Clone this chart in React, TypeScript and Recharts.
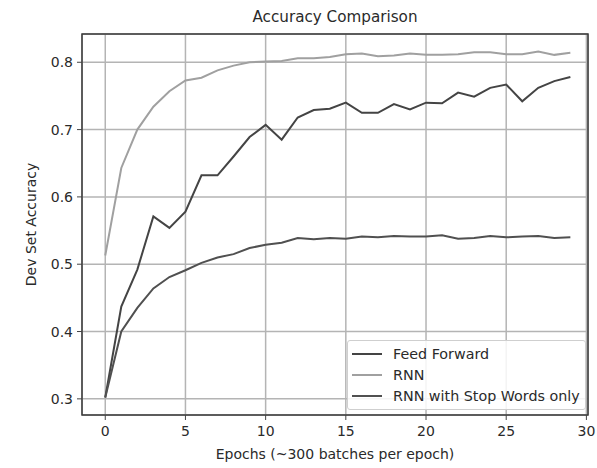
import React from "react";
import {
  LineChart,
  Line,
  XAxis,
  YAxis,
  CartesianGrid,
  ReferenceArea,
} from "recharts";

const epochs = [
  0, 1, 2, 3, 4, 5, 6, 7, 8, 9, 10, 11, 12, 13, 14, 15, 16, 17, 18, 19, 20,
  21, 22, 23, 24, 25, 26, 27, 28, 29,
];

const feedForward = [
  0.302, 0.437, 0.492, 0.571, 0.554, 0.578, 0.632, 0.632, 0.66, 0.689, 0.707,
  0.685, 0.718, 0.729, 0.731, 0.74, 0.725, 0.725, 0.738, 0.73, 0.74, 0.739,
  0.755, 0.749, 0.762, 0.767, 0.742, 0.762, 0.772, 0.778,
];

const rnn = [
  0.513, 0.643, 0.7, 0.734, 0.757, 0.773, 0.777, 0.788, 0.795, 0.8, 0.801,
  0.802, 0.806, 0.806, 0.808, 0.812, 0.813, 0.809, 0.81, 0.813, 0.811, 0.811,
  0.812, 0.815, 0.815, 0.812, 0.812, 0.816, 0.811, 0.814,
];

const stopWords = [
  0.302, 0.4, 0.435, 0.464, 0.481, 0.491, 0.502, 0.51, 0.515, 0.524, 0.529,
  0.532, 0.539, 0.537, 0.539, 0.538, 0.541, 0.54, 0.542, 0.541, 0.541, 0.543,
  0.538, 0.539, 0.542, 0.54, 0.541, 0.542, 0.539, 0.54,
];

const xTicks = [0, 5, 10, 15, 20, 25, 30];
const yTicks = [0.3, 0.4, 0.5, 0.6, 0.7, 0.8];

const seriesNames = ["Feed Forward", "RNN", "RNN with Stop Words only"];
const seriesColors = ["#444444", "#a0a0a0", "#505050"];

const data = epochs.map((e, i) => ({
  epoch: e,
  ff: feedForward[i],
  rnn: rnn[i],
  sw: stopWords[i],
}));

const FONT = "'DejaVu Sans', sans-serif";
const TEXT = "#2a2a2a";
const X_DOMAIN: [number, number] = [-1.45, 30.1];
const Y_DOMAIN: [number, number] = [0.276, 0.842];

const LegendBox = () => (
  <div
    style={{
      position: "absolute",
      left: 347,
      top: 340,
      border: "1px solid #cfcfcf",
      borderRadius: 3,
      background: "rgba(255,255,255,0.85)",
      padding: "2px 4px 3px 4px",
      fontFamily: FONT,
      fontSize: 14.3,
      color: TEXT,
      boxSizing: "border-box",
      width: 239,
    }}
  >
    {seriesNames.map((n, i) => (
      <div
        key={n}
        style={{ display: "flex", alignItems: "center", height: 21, whiteSpace: "nowrap" }}
      >
        <div
          style={{
            width: 30,
            height: 0,
            borderTop: `2px solid ${seriesColors[i]}`,
            marginRight: 11,
          }}
        />
        <span>{n}</span>
      </div>
    ))}
  </div>
);

export default function App() {
  return (
    <div
      style={{
        position: "absolute",
        left: 0,
        top: 0,
        width: 597,
        height: 468,
        background: "#fff",
      }}
    >
      <div
        style={{
          position: "absolute",
          top: 8,
          left: 82,
          width: 506,
          textAlign: "center",
          fontFamily: FONT,
          fontSize: 15.2,
          color: TEXT,
        }}
      >
        Accuracy Comparison
      </div>
      <LineChart
        width={597}
        height={468}
        data={data}
        margin={{ top: 34, right: 9, bottom: 0, left: 0 }}
      >
        <CartesianGrid stroke="#b4b4b4" strokeWidth={1.5} />
        <XAxis
          dataKey="epoch"
          type="number"
          domain={X_DOMAIN}
          allowDataOverflow
          ticks={xTicks}
          height={53}
          tickSize={5}
          tickMargin={6}
          tick={{ fontFamily: FONT, fontSize: 14, fill: TEXT }}
          tickLine={{ stroke: "#444" }}
          axisLine={false}
          label={{
            value: "Epochs (~300 batches per epoch)",
            position: "insideBottom",
            offset: 9,
            style: { fontFamily: FONT, fontSize: 14, fill: TEXT },
          }}
        />
        <YAxis
          type="number"
          domain={Y_DOMAIN}
          allowDataOverflow
          ticks={yTicks}
          width={82}
          tickSize={5}
          tickMargin={4}
          tickFormatter={(v: number) => v.toFixed(1)}
          tick={{ fontFamily: FONT, fontSize: 14, fill: TEXT }}
          tickLine={{ stroke: "#444" }}
          axisLine={false}
          label={{
            value: "Dev Set Accuracy",
            angle: -90,
            position: "insideLeft",
            offset: 31,
            style: {
              fontFamily: FONT,
              fontSize: 14,
              fill: TEXT,
              textAnchor: "middle",
            },
          }}
        />
        <ReferenceArea
          x1={X_DOMAIN[0]}
          x2={X_DOMAIN[1]}
          y1={Y_DOMAIN[0]}
          y2={Y_DOMAIN[1]}
          fill="none"
          stroke="#3a3a3a"
          strokeWidth={1.5}
          ifOverflow="visible"
        />
        <Line
          dataKey="ff"
          name={seriesNames[0]}
          stroke={seriesColors[0]}
          strokeWidth={2}
          dot={false}
          isAnimationActive={false}
        />
        <Line
          dataKey="rnn"
          name={seriesNames[1]}
          stroke={seriesColors[1]}
          strokeWidth={2}
          dot={false}
          isAnimationActive={false}
        />
        <Line
          dataKey="sw"
          name={seriesNames[2]}
          stroke={seriesColors[2]}
          strokeWidth={2}
          dot={false}
          isAnimationActive={false}
        />
      </LineChart>
      <LegendBox />
    </div>
  );
}
